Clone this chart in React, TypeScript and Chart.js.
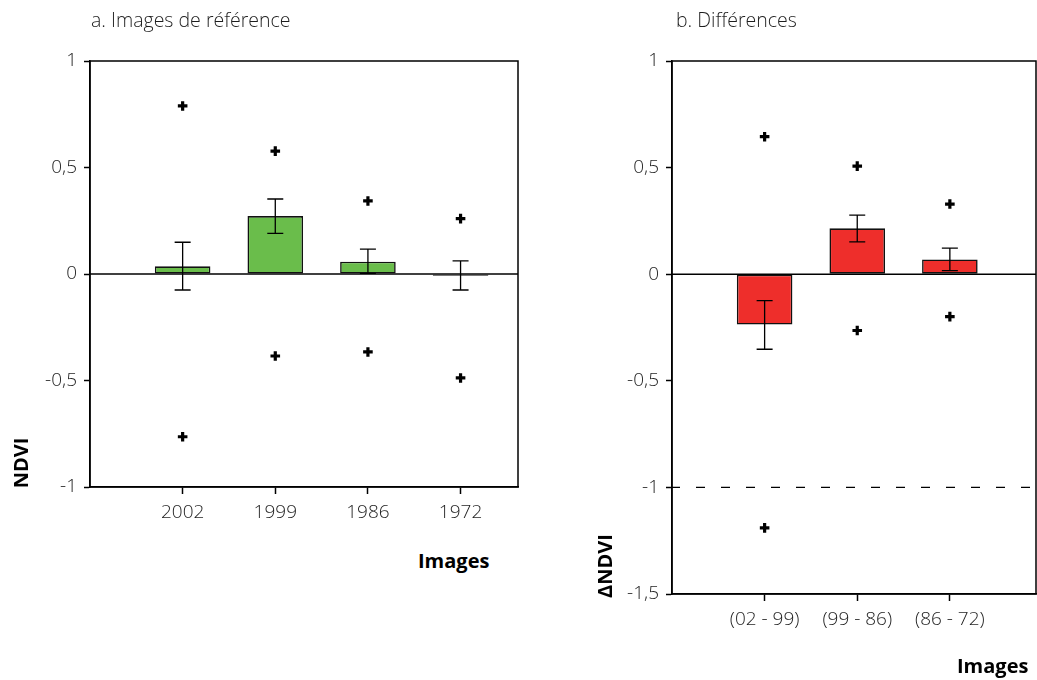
import React, { useEffect, useRef } from "react";
import { Chart, registerables } from "chart.js";

Chart.register(...registerables);

// ---- Data: panel a (reference images) ----
const categoriesA = ["2002", "1999", "1986", "1972"];
const meansA = [0.036, 0.272, 0.058, -0.008];
const errHighA = [0.149, 0.352, 0.117, 0.062];
const errLowA = [-0.075, 0.191, 0.003, -0.075];
const maxA = [0.789, 0.577, 0.343, 0.26];
const minA = [-0.764, -0.385, -0.366, -0.488];

// ---- Data: panel b (differences) ----
const categoriesB = ["(02 - 99)", "(99 - 86)", "(86 - 72)"];
const meansB = [-0.236, 0.215, 0.069];
const errHighB = [-0.124, 0.277, 0.122];
const errLowB = [-0.352, 0.152, 0.017];
const maxB = [0.645, 0.507, 0.329];
const minB = [-1.19, -0.264, -0.199];
const refLinesB = [-1];

const FONT = "'Open Sans', 'Noto Sans', sans-serif";

const framePlugin = {
  id: "frame",
  beforeDatasetsDraw(chart: any) {
    const { ctx, chartArea, scales } = chart;
    const y = scales.y;
    ctx.save();
    const y0 = y.getPixelForValue(0);
    ctx.strokeStyle = "#000";
    ctx.lineWidth = 1.5;
    ctx.beginPath();
    ctx.moveTo(chartArea.left, y0);
    ctx.lineTo(chartArea.right, y0);
    ctx.stroke();
    const refs: number[] = chart.options.plugins.frame?.refLines || [];
    ctx.setLineDash([9, 16]);
    ctx.lineDashOffset = -24;
    ctx.lineWidth = 1.3;
    refs.forEach((v) => {
      const py = y.getPixelForValue(v);
      ctx.beginPath();
      ctx.moveTo(chartArea.left, py);
      ctx.lineTo(chartArea.right, py);
      ctx.stroke();
    });
    ctx.restore();
  },
  afterDatasetsDraw(chart: any) {
    const { ctx, scales } = chart;
    const y = scales.y;
    const opts = chart.options.plugins.frame || {};
    const hi: number[] = opts.errHigh || [];
    const lo: number[] = opts.errLow || [];
    const meta = chart.getDatasetMeta(0);
    ctx.save();
    ctx.strokeStyle = "#000";
    ctx.lineWidth = 1.3;
    meta.data.forEach((el: any, i: number) => {
      const x = el.x;
      const yh = y.getPixelForValue(hi[i]);
      const yl = y.getPixelForValue(lo[i]);
      ctx.beginPath();
      ctx.moveTo(x, yh);
      ctx.lineTo(x, yl);
      ctx.moveTo(x - 8, yh);
      ctx.lineTo(x + 8, yh);
      ctx.moveTo(x - 8, yl);
      ctx.lineTo(x + 8, yl);
      ctx.stroke();
    });
    ctx.restore();
  },
  afterDraw(chart: any) {
    const { ctx, chartArea } = chart;
    ctx.save();
    ctx.strokeStyle = "#000";
    ctx.lineWidth = 1.5;
    ctx.strokeRect(chartArea.left, chartArea.top, chartArea.right - chartArea.left, chartArea.bottom - chartArea.top);
    ctx.restore();
  },
};

function makeConfig(p: {
  labels: string[];
  means: number[];
  hi: number[];
  lo: number[];
  max: number[];
  min: number[];
  color: string;
  xMax: number;
  yMin: number;
  yWidth: number;
  xHeight: number;
  padRight: number;
  refLines: number[];
}) {
  const pos = p.labels.map((_, i) => i + 1);
  const tickFont = { family: FONT, size: 19, weight: 300 as any };
  const crossStyle = {
    type: "line" as const,
    showLine: false,
    pointStyle: "cross",
    pointRadius: 4.8,
    pointBorderWidth: 3.2,
    pointBorderColor: "#000",
    pointBackgroundColor: "#000",
    order: 1,
  };
  return {
    type: "bar" as const,
    data: {
      datasets: [
        {
          type: "bar" as const,
          data: pos.map((x, i) => ({ x, y: p.means[i] })),
          backgroundColor: p.color,
          borderColor: "#111",
          borderWidth: 1.6,
          borderSkipped: false,
          barPercentage: 0.6,
          categoryPercentage: 1,
          order: 2,
        },
        { ...crossStyle, data: pos.map((x, i) => ({ x, y: p.max[i] })) },
        { ...crossStyle, data: pos.map((x, i) => ({ x, y: p.min[i] })) },
      ],
    },
    options: {
      responsive: false,
      animation: false,
      devicePixelRatio: 1,
      layout: { autoPadding: false, padding: { top: 61, right: p.padRight, left: 0, bottom: 0 } },
      plugins: {
        legend: { display: false },
        tooltip: { enabled: false },
        frame: { errHigh: p.hi, errLow: p.lo, refLines: p.refLines },
      },
      scales: {
        x: {
          type: "linear" as const,
          min: 0,
          max: p.xMax,
          offset: false,
          afterBuildTicks(scale: any) {
            scale.ticks = pos.map((v) => ({ value: v }));
          },
          afterFit(scale: any) {
            scale.height = p.xHeight;
            scale.paddingLeft = 0;
            scale.paddingRight = 0;
          },
          ticks: {
            callback: (v: any) => p.labels[Math.round(v) - 1] ?? "",
            font: tickFont,
            color: "#1e1e1e",
            padding: 7,
            maxRotation: 0,
            autoSkip: false,
          },
          grid: {
            drawOnChartArea: false,
            drawTicks: true,
            tickLength: 7,
            tickColor: "#000",
            tickWidth: 1.5,
            offset: false,
          },
          border: { display: true, color: "#000", width: 1.5 },
        },
        y: {
          min: p.yMin,
          max: 1,
          afterBuildTicks(scale: any) {
            const t: any[] = [];
            for (let v = p.yMin; v <= 1.0001; v += 0.5) t.push({ value: Math.round(v * 10) / 10 });
            scale.ticks = t;
          },
          afterFit(scale: any) {
            scale.width = p.yWidth;
            scale.paddingTop = 0;
            scale.paddingBottom = 0;
          },
          ticks: {
            callback: (v: any) => String(v).replace(".", ","),
            font: tickFont,
            color: "#1e1e1e",
            padding: 7,
          },
          grid: {
            drawOnChartArea: false,
            drawTicks: true,
            tickLength: 6,
            tickColor: "#000",
            tickWidth: 1.5,
          },
          border: { display: true, color: "#000", width: 1.5 },
        },
      },
    },
    plugins: [framePlugin],
  };
}

function Panel(props: { cfg: any; left: number; width: number; height: number }) {
  const ref = useRef<HTMLCanvasElement | null>(null);
  useEffect(() => {
    if (!ref.current) return;
    const c = new Chart(ref.current, props.cfg);
    return () => c.destroy();
  }, []);
  return (
    <canvas
      ref={ref}
      width={props.width}
      height={props.height}
      style={{ position: "absolute", left: props.left, top: 0, width: props.width, height: props.height }}
    />
  );
}

const txt = (extra: React.CSSProperties): React.CSSProperties => ({
  position: "absolute",
  fontFamily: FONT,
  whiteSpace: "nowrap",
  ...extra,
});

export default function App() {
  const cfgA = makeConfig({
    labels: categoriesA,
    means: meansA,
    hi: errHighA,
    lo: errLowA,
    max: maxA,
    min: minA,
    color: "#6abd4b",
    xMax: 4.62,
    yMin: -1,
    yWidth: 90,
    xHeight: 53,
    padRight: 22,
    refLines: [],
  });
  const cfgB = makeConfig({
    labels: categoriesB,
    means: meansB,
    hi: errHighB,
    lo: errLowB,
    max: maxB,
    min: minB,
    color: "#ee2e2b",
    xMax: 3.93,
    yMin: -1.5,
    yWidth: 72,
    xHeight: 86,
    padRight: 1,
    refLines: refLinesB,
  });
  return (
    <div style={{ position: "absolute", left: 0, top: 0, width: 1037, height: 680, background: "#fff", overflow: "hidden" }}>
      <Panel cfg={cfgA} left={0} width={540} height={540} />
      <Panel cfg={cfgB} left={600} width={437} height={680} />
      <div style={txt({ left: 91, top: 8, fontSize: 19.5, fontWeight: 300, lineHeight: "24px", color: "#1e1e1e" })}>
        a. Images de référence
      </div>
      <div style={txt({ left: 676, top: 8, fontSize: 19.5, fontWeight: 300, lineHeight: "24px", color: "#1e1e1e" })}>
        b. Différences
      </div>
      <div style={txt({ left: 418, top: 548, fontSize: 20, fontWeight: 700, lineHeight: "26px", color: "#000" })}>
        Images
      </div>
      <div style={txt({ left: 957, top: 653, fontSize: 20, fontWeight: 700, lineHeight: "26px", color: "#000" })}>
        Images
      </div>
      <div
        style={txt({
          left: 21 - 50,
          top: 463 - 13,
          width: 100,
          height: 26,
          textAlign: "center",
          fontSize: 20,
          fontWeight: 700,
          lineHeight: "26px",
          color: "#000",
          transform: "rotate(-90deg)",
        })}
      >
        NDVI
      </div>
      <div
        style={txt({
          left: 605 - 50,
          top: 566 - 13,
          width: 100,
          height: 26,
          textAlign: "center",
          fontSize: 20,
          fontWeight: 700,
          lineHeight: "26px",
          color: "#000",
          transform: "rotate(-90deg)",
        })}
      >
        ΔNDVI
      </div>
    </div>
  );
}
